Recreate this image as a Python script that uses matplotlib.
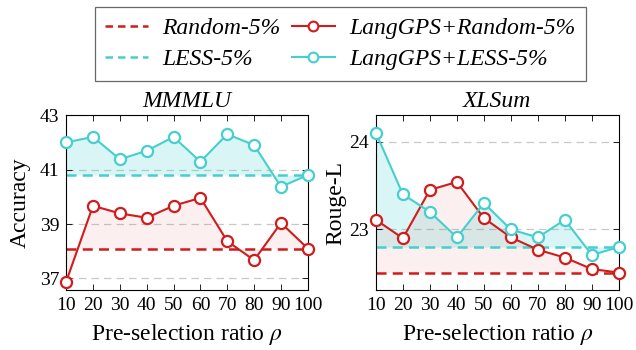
#!/usr/bin/env python3

import numpy as np
from matplotlib import pyplot as plt
from matplotlib.lines import Line2D

# data
ratios = [10, 20, 30, 40, 50, 60, 70, 80, 90, 100]

mmmlu_random = 38.1
mmmlu_less = 40.8
mmmlu_langgps_random = [36.88, 39.67, 39.39, 39.23, 39.67, 39.96, 38.37, 37.67, 39.04, 38.1]
mmmlu_langgps_less = [42.0, 42.2, 41.38, 41.69, 42.2, 41.29, 42.3, 41.9, 40.37, 40.8]

xlsum_random = 22.51
xlsum_less = 22.8
xlsum_langgps_random = [23.11, 22.9, 23.45, 23.54, 23.13, 22.91, 22.77, 22.68, 22.55, 22.51]
xlsum_langgps_less = [24.1, 23.4, 23.2, 22.91, 23.3, 23.0, 22.91, 23.11, 22.71, 22.8]

RED = '#d01c1c'
CYAN = '#45cfcf'

plt.rcParams['font.family'] = ['Liberation Serif', 'DejaVu Serif']
plt.rcParams['mathtext.fontset'] = 'stix'


###-----------------------------------------------------------------------
def draw_panel(ax, title, ylabel, base_r, base_l, ys_r, ys_l, ylim, yticks, ylabelpad):
###-----------------------------------------------------------------------
    x = np.array(ratios)
    ax.fill_between(x, ys_l, base_l, color=CYAN, alpha=0.2, lw=0, zorder=1)
    ax.fill_between(x, ys_r, base_r, color=RED, alpha=0.065, lw=0, zorder=1)

    ax.axhline(base_r, color=RED, lw=1.8, ls=(0, (4, 2.5)), zorder=2)
    ax.axhline(base_l, color=CYAN, lw=1.8, ls=(0, (4, 2.5)), zorder=2)

    for ys, c in [(ys_r, RED), (ys_l, CYAN)]:
        ax.plot(x, ys, color=c, lw=1.5, marker='o', ms=8, mfc='white',
                mec=c, mew=1.6, zorder=4, clip_on=False)

    ax.set_xlim(10, 100)
    ax.set_ylim(*ylim)
    ax.set_xticks(ratios)
    ax.set_yticks(yticks)
    for yt in yticks:
        ax.axhline(yt, color='#c8c8c8', lw=0.9, ls=(0, (6, 4)), zorder=0)

    ax.tick_params(axis='both', which='both', direction='in', top=True,
                   right=True, labelsize=14, length=4, width=0.6, pad=5)
    for sp in ax.spines.values():
        sp.set_linewidth(0.8)
    ax.set_title(title, fontsize=17, style='italic', pad=6)
    ax.set_ylabel(ylabel, fontsize=17, labelpad=ylabelpad)
    ax.set_xlabel(r'Pre-selection ratio $\rho$', fontsize=17, labelpad=6)


fig = plt.figure(figsize=(6.36, 3.5), dpi=100)
ax1 = fig.add_axes([0.104, 0.171, 0.380, 0.5])
ax2 = fig.add_axes([0.591, 0.171, 0.382, 0.5])

draw_panel(ax1, 'MMMLU', 'Accuracy', mmmlu_random, mmmlu_less,
           mmmlu_langgps_random, mmmlu_langgps_less, (36.57, 43), [37, 39, 41, 43], 6)
draw_panel(ax2, 'XLSum', 'Rouge-L', xlsum_random, xlsum_less,
           xlsum_langgps_random, xlsum_langgps_less, (22.31, 24.3), [23, 24], 2)

handles = [
    Line2D([], [], color=RED, lw=1.8, ls=(0, (3, 2))),
    Line2D([], [], color=CYAN, lw=1.8, ls=(0, (3, 2))),
    Line2D([], [], color=RED, lw=1.5, marker='o', ms=7, mfc='white', mec=RED, mew=1.5),
    Line2D([], [], color=CYAN, lw=1.5, marker='o', ms=7, mfc='white', mec=CYAN, mew=1.5),
]
labels = ['Random-5%', 'LESS-5%', 'LangGPS+Random-5%', 'LangGPS+LESS-5%']
leg = fig.legend(handles, labels, loc='upper center', bbox_to_anchor=(0.535, 0.98),
                 borderaxespad=0.0, ncol=2, prop={'style': 'italic', 'size': 17},
                 frameon=True, fancybox=False, edgecolor='#444444',
                 handlelength=1.8, columnspacing=0.5, labelspacing=0.4,
                 borderpad=0.45, handletextpad=0.6)
leg.get_frame().set_linewidth(0.9)

plt.savefig('out.png', dpi=100)
plt.close(fig)
